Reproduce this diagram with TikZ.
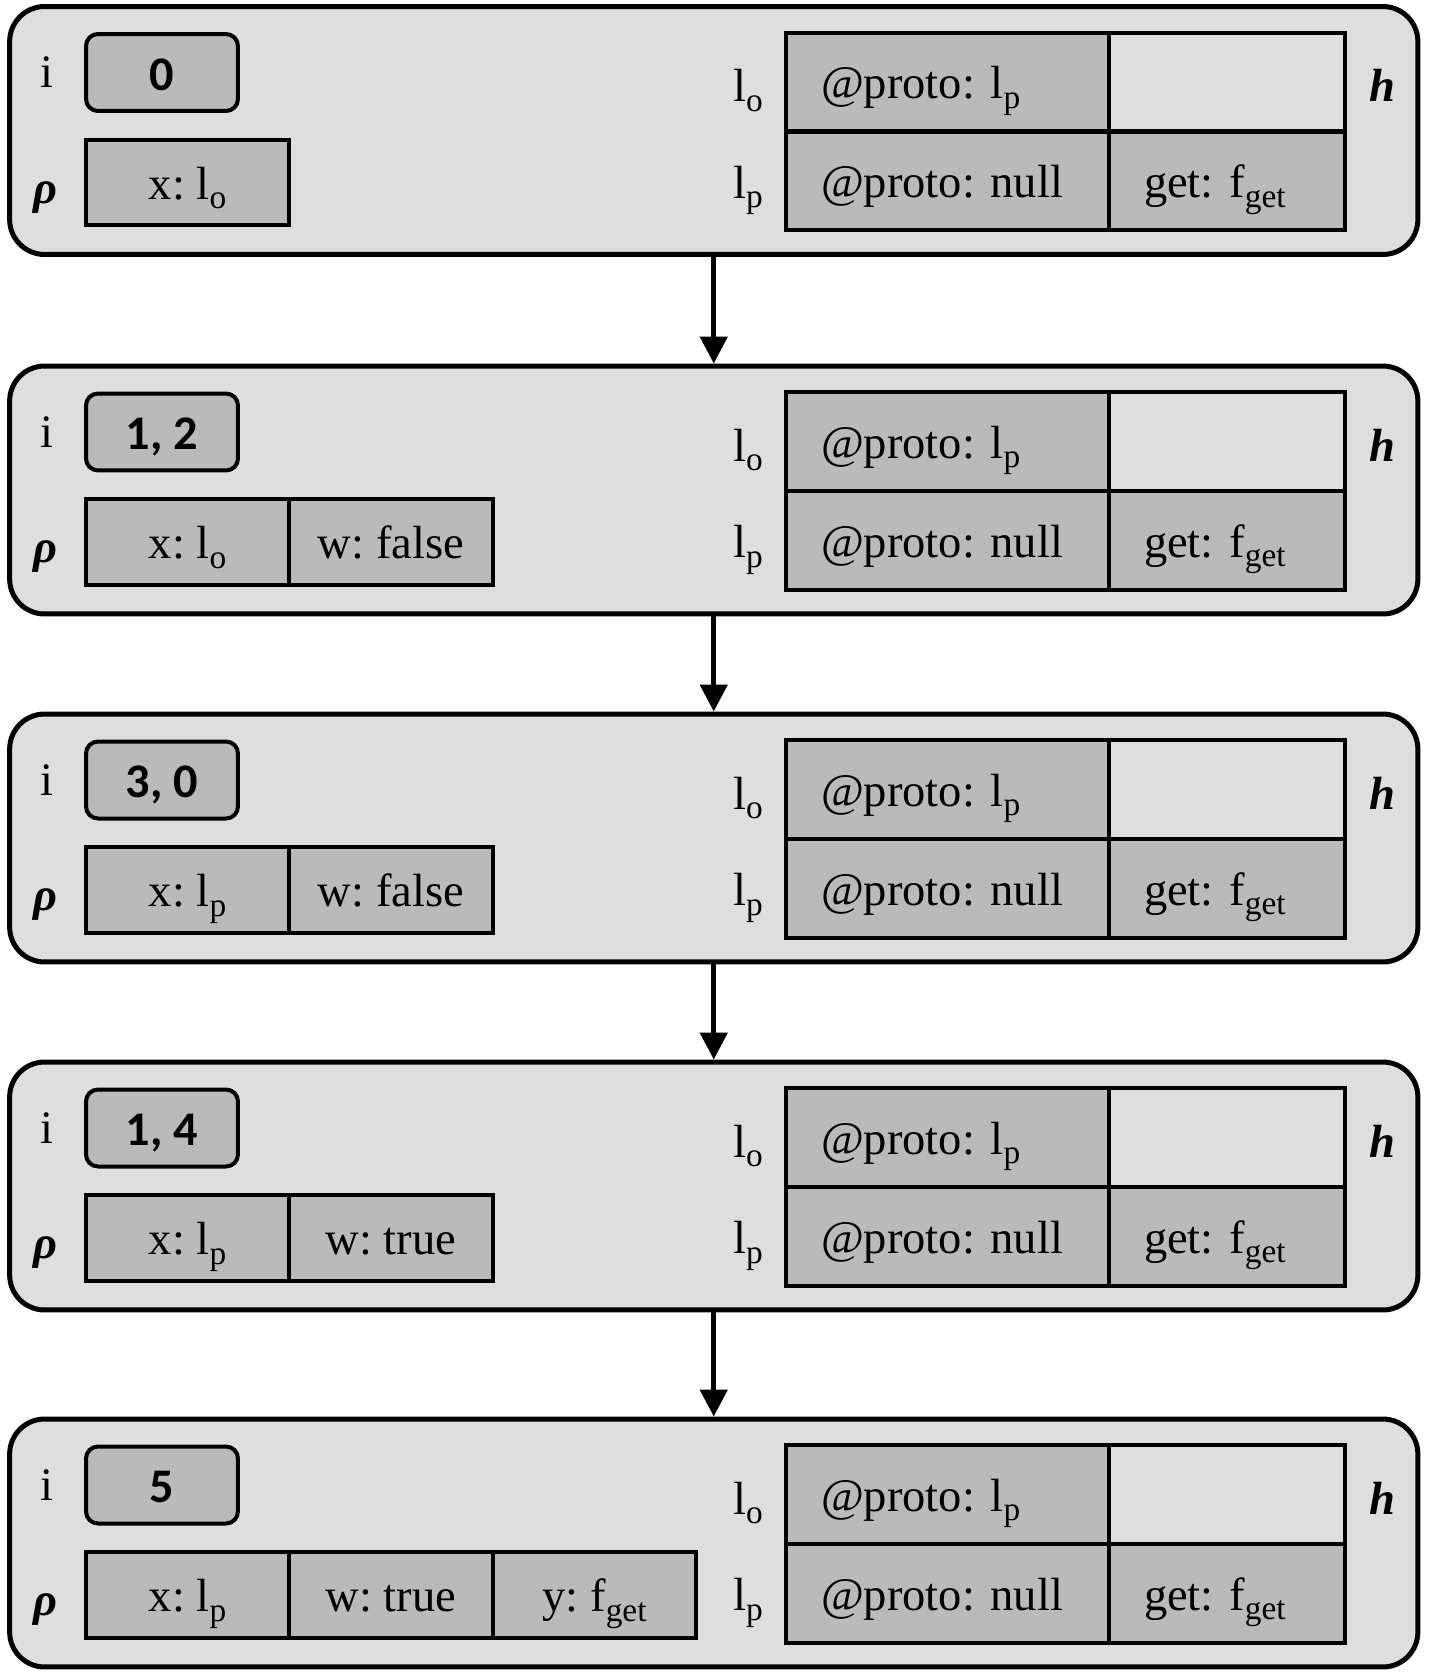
\documentclass[tikz,border=0pt]{standalone}
\usepackage{fontspec}
\setmainfont{Liberation Serif}
\newfontfamily\numfont{Carlito}
\usepackage{xcolor}
\usepackage{tikz}
\usetikzlibrary{arrows.meta}
\definecolor{panelGray}{HTML}{DEDEDE}
\definecolor{cellGray}{HTML}{BABABA}
\newcommand{\subtxt}[1]{\raisebox{-0.2em}{\fontsize{19}{20}\selectfont #1}}
\frenchspacing

\begin{document}
\begin{tikzpicture}[x=0.02cm, y=-0.02cm,
  every node/.style={font=\fontsize{26.5}{32}\selectfont},
  txt/.style={inner sep=0pt, text height=19.3pt, text depth=0pt},
  var/.style={font=\bfseries\itshape\fontsize{26.5}{32}\selectfont},
  panel/.style={draw, line width=0.1cm, fill=panelGray, rounded corners=0.7cm,
                minimum width=28.17cm, minimum height=4.96cm},
  ibox/.style={draw, line width=0.08cm, fill=cellGray, rounded corners=0.24cm,
               minimum width=3.04cm, minimum height=1.54cm, inner sep=0pt,
               text height=20pt, text depth=0pt,
               font=\numfont\bfseries\fontsize{27.5}{33}\selectfont},
  envcell/.style={draw, line width=0.08cm, fill=cellGray, inner sep=0pt,
                  minimum width=4.07cm, minimum height=1.72cm,
                  text height=19.3pt, text depth=0pt},
  objcell/.style={draw, line width=0.08cm, fill=cellGray, minimum height=1.98cm,
                  inner xsep=0.7cm, inner ysep=0pt, align=left,
                  text height=19.3pt, text depth=0pt},
  emptycell/.style={objcell, fill=panelGray},
  wide/.style={text width=5.06cm},
  narrow/.style={text width=3.32cm},
  flow/.style={-{Triangle[length=0.54cm, width=0.54cm]}, line width=0.1cm},
]
\useasboundingbox (0,0) rectangle (1430,1680);

% Step 1
\node[panel] (s1) at (713.75, 130.5) {};
\node[txt] (i1) at (47, 71) {i};
\node[ibox] (iv1) at (162, 72.5) {0};
\node[txt, var] (rho1) at (45, 186.5) {ρ};
\node[envcell] (x1) at (187.5, 182.5) {x: l\subtxt{o}};
\node[txt] (lo1) at (748, 85) {l\subtxt{o}};
\node[txt] (lp1) at (748, 181.5) {l\subtxt{p}};
\node[objcell, wide] (op1) at (947.5, 82) {@proto: l\subtxt{p}};
\node[emptycell, narrow] (oe1) at (1227, 82) {};
\node[objcell, wide] (pp1) at (947.5, 181) {@proto: null};
\node[objcell, narrow] (pg1) at (1227, 181) {get: f\subtxt{get}};
\node[txt, var] (h1) at (1382, 85) {h};

% Step 2
\node[panel] (s2) at (713.75, 490) {};
\node[txt] (i2) at (47, 430.5) {i};
\node[ibox] (iv2) at (162, 432) {1, 2};
\node[txt, var] (rho2) at (45, 546) {ρ};
\node[envcell] (x2) at (187.5, 542) {x: l\subtxt{o}};
\node[envcell] (w2) at (391, 542) {w: false};
\node[txt] (lo2) at (748, 444.5) {l\subtxt{o}};
\node[txt] (lp2) at (748, 541) {l\subtxt{p}};
\node[objcell, wide] (op2) at (947.5, 441.5) {@proto: l\subtxt{p}};
\node[emptycell, narrow] (oe2) at (1227, 441.5) {};
\node[objcell, wide] (pp2) at (947.5, 540.5) {@proto: null};
\node[objcell, narrow] (pg2) at (1227, 540.5) {get: f\subtxt{get}};
\node[txt, var] (h2) at (1382, 444.5) {h};

% Step 3
\node[panel] (s3) at (713.75, 838) {};
\node[txt] (i3) at (47, 778.5) {i};
\node[ibox] (iv3) at (162, 780) {3, 0};
\node[txt, var] (rho3) at (45, 894) {ρ};
\node[envcell] (x3) at (187.5, 890) {x: l\subtxt{p}};
\node[envcell] (w3) at (391, 890) {w: false};
\node[txt] (lo3) at (748, 792.5) {l\subtxt{o}};
\node[txt] (lp3) at (748, 889) {l\subtxt{p}};
\node[objcell, wide] (op3) at (947.5, 789.5) {@proto: l\subtxt{p}};
\node[emptycell, narrow] (oe3) at (1227, 789.5) {};
\node[objcell, wide] (pp3) at (947.5, 888.5) {@proto: null};
\node[objcell, narrow] (pg3) at (1227, 888.5) {get: f\subtxt{get}};
\node[txt, var] (h3) at (1382, 792.5) {h};

% Step 4
\node[panel] (s4) at (713.75, 1186) {};
\node[txt] (i4) at (47, 1126.5) {i};
\node[ibox] (iv4) at (162, 1128) {1, 4};
\node[txt, var] (rho4) at (45, 1242) {ρ};
\node[envcell] (x4) at (187.5, 1238) {x: l\subtxt{p}};
\node[envcell] (w4) at (391, 1238) {w: true};
\node[txt] (lo4) at (748, 1140.5) {l\subtxt{o}};
\node[txt] (lp4) at (748, 1237) {l\subtxt{p}};
\node[objcell, wide] (op4) at (947.5, 1137.5) {@proto: l\subtxt{p}};
\node[emptycell, narrow] (oe4) at (1227, 1137.5) {};
\node[objcell, wide] (pp4) at (947.5, 1236.5) {@proto: null};
\node[objcell, narrow] (pg4) at (1227, 1236.5) {get: f\subtxt{get}};
\node[txt, var] (h4) at (1382, 1140.5) {h};

% Step 5
\node[panel] (s5) at (713.75, 1543) {};
\node[txt] (i5) at (47, 1483.5) {i};
\node[ibox] (iv5) at (162, 1485) {5};
\node[txt, var] (rho5) at (45, 1599) {ρ};
\node[envcell] (x5) at (187.5, 1595) {x: l\subtxt{p}};
\node[envcell] (w5) at (391, 1595) {w: true};
\node[envcell] (y5) at (594.5, 1595) {y: f\subtxt{get}};
\node[txt] (lo5) at (748, 1497.5) {l\subtxt{o}};
\node[txt] (lp5) at (748, 1594) {l\subtxt{p}};
\node[objcell, wide] (op5) at (947.5, 1494.5) {@proto: l\subtxt{p}};
\node[emptycell, narrow] (oe5) at (1227, 1494.5) {};
\node[objcell, wide] (pp5) at (947.5, 1593.5) {@proto: null};
\node[objcell, narrow] (pg5) at (1227, 1593.5) {get: f\subtxt{get}};
\node[txt, var] (h5) at (1382, 1497.5) {h};

% Transitions
\draw[flow] (s1) -- (s2);
\draw[flow] (s2) -- (s3);
\draw[flow] (s3) -- (s4);
\draw[flow] (s4) -- (s5);

\end{tikzpicture}
\end{document}
